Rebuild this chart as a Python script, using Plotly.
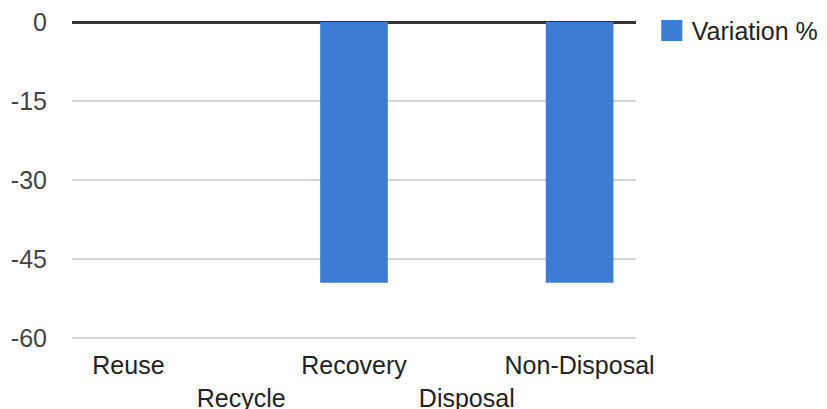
import plotly.graph_objects as go

categories = ["Reuse", "Recycle", "Recovery", "Disposal", "Non-Disposal"]
variation = [0, 0, -49.5, 0, -49.5]
series_name = "Variation %"
y_ticks = [0, -15, -30, -45, -60]

# staggered category labels (every second label on a second row)
tick_text = [c if i % 2 == 0 else "<br>" + c for i, c in enumerate(categories)]

BLUE = "#3d7cd5"
FONT = "Liberation Sans, Arial, sans-serif"
FS = 25

fig = go.Figure()
fig.add_trace(go.Bar(
    x=categories, y=variation, name=series_name,
    marker=dict(color=BLUE, line=dict(width=0)),
    showlegend=False,
))
# legend entry with a larger square swatch
fig.add_trace(go.Scatter(
    x=[None], y=[None], mode="markers", name=series_name,
    marker=dict(symbol="square", size=16, color=BLUE,
                line=dict(color=BLUE, width=5)),
))

fig.update_layout(
    width=819, height=401,
    margin=dict(l=64, r=191, t=14, b=68, autoexpand=False),
    paper_bgcolor="white", plot_bgcolor="white",
    font=dict(family=FONT, size=FS, color="#444444"),
    bargap=0.4,
    showlegend=True,
    legend=dict(x=1.028, xanchor="left", y=1.045, yanchor="top",
                xref="paper", yref="paper",
                font=dict(size=FS, color="#222222"),
                itemsizing="trace", bgcolor="rgba(0,0,0,0)",
                tracegroupgap=0, borderwidth=0),
    xaxis=dict(
        tickmode="array", tickvals=categories, ticktext=tick_text,
        showgrid=False, showline=False, ticks="", zeroline=False,
        tickfont=dict(size=FS, color="#222222"), tickangle=0,
        automargin=False, ticklabelstandoff=7, ticklabeloverflow="allow",
    ),
    yaxis=dict(
        range=[-60.55, 0], tickmode="array", tickvals=y_ticks,
        ticktext=[str(v) for v in y_ticks],
        showgrid=True, gridcolor="#d6d6d6", gridwidth=2,
        zeroline=True, zerolinecolor="#333333", zerolinewidth=3,
        showline=False, ticks="", ticklabelstandoff=24,
        ticklabeloverflow="allow",
        tickfont=dict(size=FS, color="#444444"),
        automargin=False,
    ),
)

fig.write_html("out.html")
